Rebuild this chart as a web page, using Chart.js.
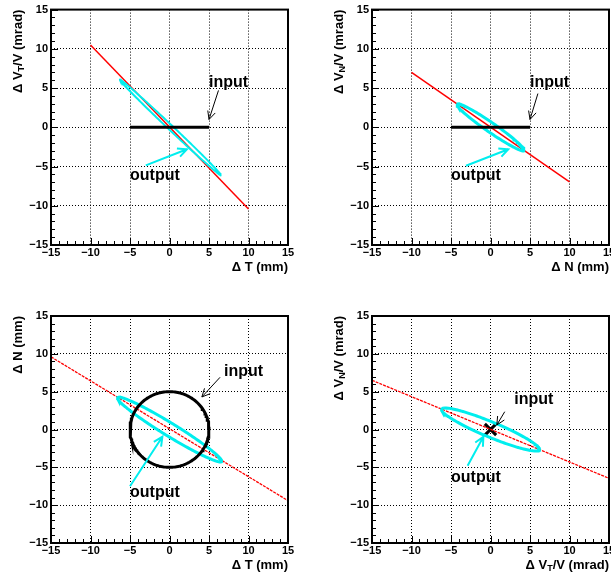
<!DOCTYPE html>
<html lang="en">
<head>
<meta charset="UTF-8">
<title>Input / output ellipses</title>
<script src="https://cdn.jsdelivr.net/npm/chart.js"></script>
<style>
  body { margin: 0; width: 611px; height: 580px; overflow: hidden; background: #fff; position: relative; }
  canvas { position: absolute; }
</style>
</head>
<body>
<canvas id="pad1" width="305" height="290" style="left:0;top:0"></canvas>
<canvas id="pad2" width="320" height="290" style="left:305px;top:0"></canvas>
<canvas id="pad3" width="305" height="290" style="left:0;top:290px"></canvas>
<canvas id="pad4" width="320" height="290" style="left:305px;top:290px"></canvas>
<script>
// tick values, same on every pad
const majorTicks = [-15, -10, -5, 0, 5, 10, 15];
const minorStep = 1;

// axis titles: [text, subscript, rest]
const xTitles = [['\u0394 T (mm)'], ['\u0394 N (mm)'], ['\u0394 T (mm)'], ['\u0394 V', 'T', '/V (mrad)']];
const yTitles = [['\u0394 V', 'T', '/V (mrad)'], ['\u0394 V', 'N', '/V (mrad)'], ['\u0394 N (mm)'], ['\u0394 V', 'N', '/V (mrad)']];

// correlation line end points
const fitX = [[-10, 10], [-10, 10], [-15, 15], [-15, 15]];
const fitY = [[10.5, -10.4], [7, -6.95], [9.6, -9.4], [6.5, -6.45]];

// output ellipse: centre, semi axes, tilt in degrees
const ellCx = [0.1, 0, 0, 0];
const ellCy = [0, 0, 0, 0];
const ellA = [8.8, 5.15, 7.8, 6.75];
const ellB = [0.3, 0.6, 0.85, 1.0];
const ellTilt = [-43.6, -34.9, -32.7, -23.5];

// input shapes: segment (pads 1, 2), circle (pad 3), point (pad 4)
const inSegX = [-5, 5];
const inSegY = [0, 0];
const inCircle = [0, 0, 5];
const inPoint = [0, 0];

// labels and arrows, axis units
const inputLabel = [[5.0, 5.7], [5.0, 5.7], [6.9, 7.7], [3.0, 3.9]];
const inputFrom = [[6.2, 4.7], [6.0, 4.3], [6.4, 6.9], [1.8, 2.35]];
const inputTo = [[5.0, 1.0], [5.0, 1.0], [4.1, 4.3], [0.8, 0.6]];
const outputLabel = [[-5.0, -6.2], [-5.0, -6.2], [-5.0, -8.3], [-5.0, -6.3]];
const outputFrom = [[-3.0, -4.85], [-3.1, -4.9], [-5.0, -7.5], [-2.9, -4.8]];
const outputTo = [[2.2, -2.8], [2.25, -2.8], [-0.9, -0.95], [-0.9, -0.95]];

// frame of each pad, canvas pixels
const pads = [
  { id: 'pad1', left: 51, top: 7, right: 288, bottom: 245 },
  { id: 'pad2', left: 67, top: 7, right: 304, bottom: 245 },
  { id: 'pad3', left: 51, top: 26, right: 288, bottom: 253 },
  { id: 'pad4', left: 67, top: 26, right: 304, bottom: 253 }
];

const RED = '#ff0000';
const CYAN = '#00eeee';
const FONT = "'Liberation Sans', Arial, sans-serif";

function ellipsePoints(cx, cy, a, b, tiltDeg) {
  const t = tiltDeg * Math.PI / 180, pts = [];
  for (let i = 0; i <= 180; i++) {
    const p = i / 180 * 2 * Math.PI;
    const u = a * Math.cos(p), v = b * Math.sin(p);
    pts.push({ x: cx + u * Math.cos(t) - v * Math.sin(t), y: cy + u * Math.sin(t) + v * Math.cos(t) });
  }
  return pts;
}

function fmt(v) { return v < 0 ? '\u2212' + (-v) : String(v); }

function arrow(ctx, x0, y0, x1, y1, color, width, head) {
  const ang = Math.atan2(y1 - y0, x1 - x0);
  ctx.save();
  ctx.strokeStyle = color;
  ctx.lineWidth = width;
  ctx.beginPath();
  ctx.moveTo(x0, y0);
  ctx.lineTo(x1, y1);
  ctx.moveTo(x1 - head * Math.cos(ang - 0.45), y1 - head * Math.sin(ang - 0.45));
  ctx.lineTo(x1, y1);
  ctx.lineTo(x1 - head * Math.cos(ang + 0.45), y1 - head * Math.sin(ang + 0.45));
  ctx.stroke();
  ctx.restore();
}

// title with optional subscript, drawn left to right from x
function titleWidth(ctx, parts) {
  let w = 0;
  parts.forEach((s, i) => {
    ctx.font = (i === 1 ? 'bold 9px ' : 'bold 13px ') + FONT;
    w += ctx.measureText(s).width;
  });
  return w;
}
function drawTitle(ctx, parts, x, y) {
  parts.forEach((s, i) => {
    ctx.font = (i === 1 ? 'bold 9px ' : 'bold 13px ') + FONT;
    ctx.fillText(s, x, i === 1 ? y + 4 : y);
    x += ctx.measureText(s).width;
  });
}

const padDecor = {
  id: 'padDecor',
  afterDatasetsDraw(chart, args, opts) {
    const k = opts.index;
    const { ctx, chartArea: a } = chart;
    const xs = chart.scales.x, ys = chart.scales.y;
    ctx.save();

    // frame
    ctx.strokeStyle = '#000';
    ctx.lineWidth = 2;
    ctx.strokeRect(a.left, a.top, a.right - a.left, a.bottom - a.top);

    // ticks inside the frame
    ctx.lineWidth = 1;
    ctx.beginPath();
    for (let v = majorTicks[0]; v <= majorTicks[majorTicks.length - 1]; v += minorStep) {
      const len = majorTicks.includes(v) ? 7 : 4;
      const px = Math.round(xs.getPixelForValue(v)) + 0.5;
      const py = Math.round(ys.getPixelForValue(v)) + 0.5;
      ctx.moveTo(px, a.bottom); ctx.lineTo(px, a.bottom - len);
      ctx.moveTo(a.left, py); ctx.lineTo(a.left + len, py);
    }
    ctx.stroke();

    // arrows and labels
    const P = p => [xs.getPixelForValue(p[0]), ys.getPixelForValue(p[1])];
    let f = P(inputFrom[k]), t = P(inputTo[k]);
    arrow(ctx, f[0], f[1], t[0], t[1], '#000', 1, 9);
    f = P(outputFrom[k]); t = P(outputTo[k]);
    arrow(ctx, f[0], f[1], t[0], t[1], CYAN, 2, 10);

    ctx.fillStyle = '#000';
    ctx.font = 'bold 16px ' + FONT;
    ctx.textAlign = 'left';
    ctx.textBaseline = 'middle';
    let l = P(inputLabel[k]);
    ctx.fillText('input', l[0], l[1]);
    l = P(outputLabel[k]);
    ctx.fillText('output', l[0], l[1]);

    // axis titles
    const xt = xTitles[k], yt = yTitles[k];
    drawTitle(ctx, xt, a.right - titleWidth(ctx, xt), a.bottom + 22);
    ctx.translate(a.left - 33, a.top);
    ctx.rotate(-Math.PI / 2);
    drawTitle(ctx, yt, -titleWidth(ctx, yt), 0);
    ctx.restore();
  }
};

function lineSet(xy, color, width, dash) {
  return { data: xy, showLine: true, borderColor: color, borderWidth: width, borderDash: dash || [],
           pointRadius: 0, fill: false, tension: 0 };
}

pads.forEach((pad, k) => {
  const canvas = document.getElementById(pad.id);
  const datasets = [];

  // input shape
  if (k < 2) {
    datasets.push(lineSet(inSegX.map((x, i) => ({ x, y: inSegY[i] })), '#000', 3));
  } else if (k === 2) {
    datasets.push(lineSet(ellipsePoints(inCircle[0], inCircle[1], inCircle[2], inCircle[2], 0), '#000', 3));
  }
  // output ellipse
  datasets.push(lineSet(ellipsePoints(ellCx[k], ellCy[k], ellA[k], ellB[k], ellTilt[k]), CYAN, k === 0 ? 2 : 3));
  // correlation line
  datasets.push(lineSet(fitX[k].map((x, i) => ({ x, y: fitY[k][i] })), RED, k < 2 ? 1.5 : 1.3, k < 2 ? [] : [3, 1]));
  if (k === 3) {
    datasets.push({ data: [{ x: inPoint[0], y: inPoint[1] }], pointStyle: 'crossRot', pointRadius: 8,
                    borderColor: '#000', borderWidth: 3, showLine: false });
  }

  const axis = (isX) => ({
    type: 'linear',
    min: majorTicks[0],
    max: majorTicks[majorTicks.length - 1],
    afterBuildTicks: s => { s.ticks = majorTicks.map(v => ({ value: v })); },
    afterFit: s => {
      if (isX) s.height = canvas.height - pad.bottom;
      else s.width = pad.left;
    },
    ticks: {
      callback: fmt,
      color: '#000',
      padding: isX ? 1 : 3,
      maxRotation: 0,
      autoSkip: false,
      font: { family: FONT, weight: 'bold', size: 11 }
    },
    grid: {
      drawTicks: false,
      lineWidth: 1,
      color: c => (c.tick && Math.abs(c.tick.value) === 15) ? 'rgba(0,0,0,0)' : '#000'
    },
    border: { display: false, dash: [1, 2] }
  });

  new Chart(canvas, {
    type: 'scatter',
    data: { datasets },
    options: {
      responsive: false,
      animation: false,
      devicePixelRatio: 1,
      layout: { padding: { left: 0, top: pad.top, right: canvas.width - pad.right, bottom: 0 } },
      plugins: { legend: { display: false }, tooltip: { enabled: false }, padDecor: { index: k } },
      scales: { x: axis(true), y: axis(false) }
    },
    plugins: [padDecor]
  });
});
</script>
</body>
</html>
